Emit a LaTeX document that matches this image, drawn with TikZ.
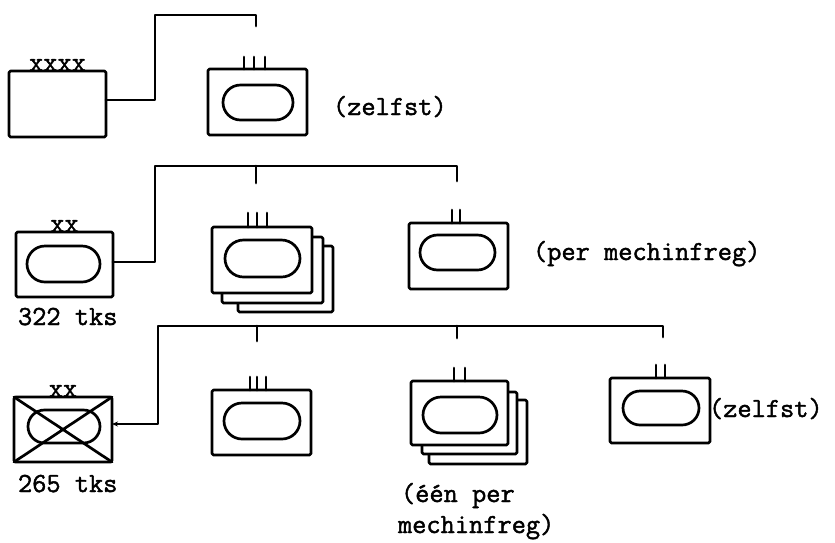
\documentclass[tikz,border=0pt]{standalone}
\usepackage{fontspec}
\newfontfamily\typew{Latin Modern Mono}[FakeBold=1.6]
\usetikzlibrary{arrows.meta,shapes.misc}
\begin{document}
\begin{tikzpicture}[x=1pt,y=-1pt, line width=2.7pt, line join=round, line cap=round,
  card/.style 2 args={draw, fill=white, rectangle, inner sep=0pt, outer sep=0pt,
    minimum width=#1pt, minimum height=#2pt, rounded corners=1.5pt},
  oval/.style 2 args={draw, rounded rectangle, inner sep=0pt, outer sep=0pt,
    minimum width=#1pt, minimum height=#2pt},
  txt/.style={font=\typew\fontsize{27.6pt}{33pt}\selectfont, inner sep=0pt, outer sep=0pt},
  tip/.style={{Stealth[length=6pt,width=5pt]}-}]
\path[use as bounding box, fill=white] (0,0) rectangle (835,542);

% ---------- row 1 ----------
\node[card={97}{66}] (A) at (57.5,104) {};
\node[txt, anchor=base] (xA) at (57.5,71) {xxxx};
\node[card={99}{66}] (B) at (257.5,102) {};
\node[oval={70}{35}] (Bo) at (258,102.5) {};
\foreach \d in {-13.5,-3.5,7.5} \draw ([xshift=\d pt]B.north) -- ++(0,-12);
\node[txt, anchor=base west] (z1) at (333,115) {(zelfst)};
\coordinate (c1) at (155,15);
\coordinate (t1) at (256,26);
\draw ([yshift=4pt]A.east) -| (c1) -| (t1);

% ---------- row 2 ----------
\node[card={97}{65}] (C) at (64.5,264.5) {};
\node[oval={73}{36}] (Co) at (63.5,264) {};
\node[txt, anchor=base] (xC) at (64.5,232) {xx};
\node[txt, anchor=base west] (n322) at (18,325) {322 tks};
\node[card={95}{66}] (D3) at (285.5,279) {};
\node[card={101}{66}] (D2) at (272.5,270) {};
\node[card={100}{66}] (D) at (262,260) {};
\node[oval={75}{37}] (Do) at (262.5,258.5) {};
\foreach \d in {-14,-5,5} \draw ([xshift=\d pt]D.north) -- ++(0,-14);
\node[card={99}{66}] (E) at (458.5,256) {};
\node[oval={75}{35}] (Eo) at (457.5,252.5) {};
\foreach \d in {-6.5,1.5} \draw ([xshift=\d pt]E.north) -- ++(0,-13);
\node[txt, anchor=base west] (pm) at (533,260) {(per mechinfreg)};
\coordinate (c2) at (155,166);
\coordinate (t2a) at (256,183);
\coordinate (t2b) at (457,181);
\draw ([yshift=2.5pt]C.east) -| (c2) -| (t2b);
\draw (t2a |- c2) -- (t2a);

% ---------- row 3 ----------
\node[card={98}{65}] (F) at (63,429.5) {};
\node[oval={72}{33}] (Fo) at (64,426.5) {};
\draw (F.north west) -- (F.south east) (F.north east) -- (F.south west);
\node[txt, anchor=base] (xF) at (63,397) {xx};
\node[txt, anchor=base west] (n265) at (18,492) {265 tks};
\node[card={99}{65}] (G) at (261.5,422.5) {};
\node[oval={76}{36}] (Go) at (262,421) {};
\foreach \d in {-11.5,-4.5,4.5} \draw ([xshift=\d pt]G.north) -- ++(0,-13);
\node[card={98}{64}] (H3) at (478,432) {};
\node[card={95}{62}] (H2) at (469.5,423) {};
\node[card={97}{64}] (H) at (459.5,413) {};
\node[oval={74}{36}] (Ho) at (460,415) {};
\foreach \d in {-5.5,5.5} \draw ([xshift=\d pt]H.north) -- ++(0,-13);
\node[txt, anchor=base west] (e1) at (401,502) {(één per};
\node[txt, anchor=base west] (e2) at (398,533) {mechinfreg)};
\node[card={100}{65}] (I) at (660,410.5) {};
\node[oval={76}{34}] (Io) at (661,408) {};
\foreach \d in {-4,5} \draw ([xshift=\d pt]I.north) -- ++(0,-13);
\node[txt, anchor=base west] (z2) at (709,417) {(zelfst)};
\coordinate (c3) at (158,326);
\coordinate (t3a) at (257,341);
\coordinate (t3b) at (457,338);
\coordinate (t3c) at (663,337);
\draw[tip] ([yshift=5.5pt]F.east) -| (c3) -| (t3c);
\draw (t3a |- c3) -- (t3a);
\draw (t3b |- c3) -- (t3b);
\end{tikzpicture}
\end{document}
